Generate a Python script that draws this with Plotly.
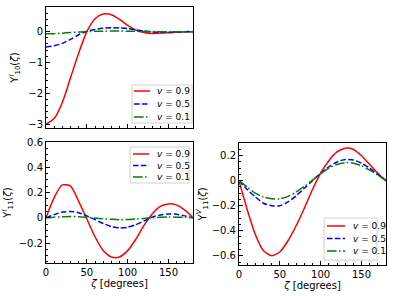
import plotly.graph_objects as go

zeta = [0, 10, 20, 30, 40, 50, 60, 70, 80, 90, 100, 110, 120, 130, 140, 150, 160, 170, 180]
labels = ["<i>v</i> = 0.9", "<i>v</i> = 0.5", "<i>v</i> = 0.1"]

# Top-left: Upsilon^l_10
y10_09 = [-3.0, -2.82, -2.3, -1.5, -0.7, 0.0, 0.42, 0.57, 0.55, 0.4, 0.2, 0.05, -0.03, -0.06, -0.05, -0.04, -0.02, -0.01, 0.0]
y10_05 = [-0.5, -0.46, -0.38, -0.25, -0.1, 0.01, 0.07, 0.11, 0.13, 0.12, 0.1, 0.06, 0.02, -0.01, -0.02, -0.02, -0.01, 0.0, 0.0]
y10_01 = [-0.07, -0.065, -0.05, -0.03, -0.01, 0.0, 0.01, 0.015, 0.02, 0.02, 0.015, 0.01, 0.005, 0.002, 0.0, 0.0, 0.0, 0.0, 0.0]

# Bottom-left: Upsilon^l_11
y11_09 = [0.0, 0.16, 0.26, 0.25, 0.13, -0.01, -0.15, -0.26, -0.31, -0.31, -0.26, -0.17, -0.06, 0.03, 0.09, 0.11, 0.1, 0.06, 0.0]
y11_05 = [0.0, 0.025, 0.045, 0.05, 0.04, 0.015, -0.015, -0.045, -0.07, -0.08, -0.075, -0.055, -0.025, 0.005, 0.022, 0.03, 0.028, 0.015, 0.0]
y11_01 = [0.0, 0.005, 0.008, 0.01, 0.008, 0.003, -0.002, -0.008, -0.012, -0.015, -0.014, -0.01, -0.005, 0.0, 0.004, 0.006, 0.005, 0.003, 0.0]

# Bottom-right: Upsilon^V_11
yV_09 = [0.0, -0.23, -0.43, -0.56, -0.6, -0.57, -0.48, -0.36, -0.22, -0.07, 0.06, 0.16, 0.23, 0.26, 0.25, 0.2, 0.13, 0.06, 0.0]
yV_05 = [0.0, -0.07, -0.13, -0.18, -0.2, -0.2, -0.17, -0.12, -0.06, 0.0, 0.06, 0.11, 0.15, 0.17, 0.165, 0.14, 0.1, 0.05, 0.0]
yV_01 = [0.0, -0.05, -0.1, -0.13, -0.145, -0.145, -0.125, -0.09, -0.045, 0.005, 0.055, 0.1, 0.13, 0.145, 0.14, 0.12, 0.085, 0.045, 0.0]

colors = ["#ff0000", "#0000ff", "#008000"]
dashes = ["solid", "5.5px,2.4px", "9.6px,2.4px,1.5px,2.4px"]

W, H = 395, 296

def px_x(p):
    return p / W

def px_y(p):
    return 1 - p / H

fig = go.Figure()
panels = [
    ([y10_09, y10_05, y10_01], "x", "y"),
    ([y11_09, y11_05, y11_01], "x2", "y2"),
    ([yV_09, yV_05, yV_01], "x3", "y3"),
]
for series, xa, ya in panels:
    for s, lab, c, d in zip(series, labels, colors, dashes):
        fig.add_trace(go.Scatter(x=zeta, y=s, mode="lines", name=lab, showlegend=False,
                                 line=dict(color=c, dash=d, width=1.5, shape="spline", smoothing=0.7),
                                 xaxis=xa, yaxis=ya, hoverinfo="skip"))

font = dict(family="DejaVu Sans", size=10, color="black")
axbase = dict(showline=True, linecolor="black", linewidth=1, mirror=True,
              ticks="inside", ticklen=4, tickcolor="black", showgrid=False,
              zeroline=False, tickfont=font, automargin=False)

def xax(domain, anchor, labels_on):
    return dict(axbase, domain=domain, anchor=anchor, range=[0, 180], dtick=50, tick0=0,
                showticklabels=labels_on,
                minor=dict(ticks="inside", ticklen=2, dtick=10, tickcolor="black"),
                title=dict(text="<i>ζ</i> [degrees]", font=font, standoff=1) if labels_on else None)

def yax(domain, anchor, rng, dt, mdt, title, so):
    return dict(axbase, domain=domain, anchor=anchor, range=rng, dtick=dt, tick0=0,
                minor=dict(ticks="inside", ticklen=2, dtick=mdt, tickcolor="black"),
                title=dict(text=title, font=font, standoff=so))

fig.update_layout(
    width=W, height=H, margin=dict(l=0, r=0, t=0, b=0, autoexpand=False),
    paper_bgcolor="white", plot_bgcolor="white", font=font, showlegend=False,
    xaxis=xax([px_x(46), px_x(193)], "y", False),
    yaxis=yax([px_y(128), px_y(7)], "x", [-3.13, 0.8], 1, 0.2, "Υ<sup><i>l</i></sup><sub>10</sub>(<i>ζ</i>)", 7),
    xaxis2=xax([px_x(46), px_x(193)], "y2", True),
    yaxis2=yax([px_y(263), px_y(142)], "x2", [-0.358, 0.6], 0.2, 0.05, "Υ<sup><i>l</i></sup><sub>11</sub>(<i>ζ</i>)", 5),
    xaxis3=xax([px_x(239), px_x(386)], "y3", True),
    yaxis3=yax([px_y(265), px_y(142.7)], "x3", [-0.674, 0.304], 0.2, 0.05, "Υ<sup><i>V</i></sup><sub>11</sub>(<i>ζ</i>)", 3),
)

# Compact legends (box, line samples, labels) in paper coordinates
legend_boxes = [
    # (x0, x1, y0, y1, row y's, line x0, line x1, text x, font size)
    (132, 192, 85, 123, [91, 104, 117], 134, 150, 155, 9),
    (130, 189, 147, 183, [154, 165.5, 177], 133, 149, 155, 9),
    (324, 377, 218, 260, [226, 238.5, 251], 327, 345, 351, 9),
]
shapes = []
annotations = []
for (bx0, bx1, by0, by1, rows, lx0, lx1, tx, fs) in legend_boxes:
    shapes.append(dict(type="rect", xref="paper", yref="paper",
                       x0=px_x(bx0), x1=px_x(bx1), y0=px_y(by1), y1=px_y(by0),
                       line=dict(color="#d0d0d0", width=1), fillcolor="rgba(255,255,255,0.85)",
                       layer="above"))
    for ry, lab, c, d in zip(rows, labels, colors, dashes):
        shapes.append(dict(type="line", xref="paper", yref="paper",
                           x0=px_x(lx0), x1=px_x(lx1), y0=px_y(ry), y1=px_y(ry),
                           line=dict(color=c, dash=d, width=1.5), layer="above"))
        annotations.append(dict(xref="paper", yref="paper", x=px_x(tx), y=px_y(ry),
                                xanchor="left", yanchor="middle", text=lab, showarrow=False,
                                font=dict(family="DejaVu Sans", size=fs, color="black")))
fig.update_layout(shapes=shapes, annotations=annotations)

fig.write_html("out.html", config={"displayModeBar": False, "staticPlot": True},
               post_script="document.body.style.margin='0px';")
